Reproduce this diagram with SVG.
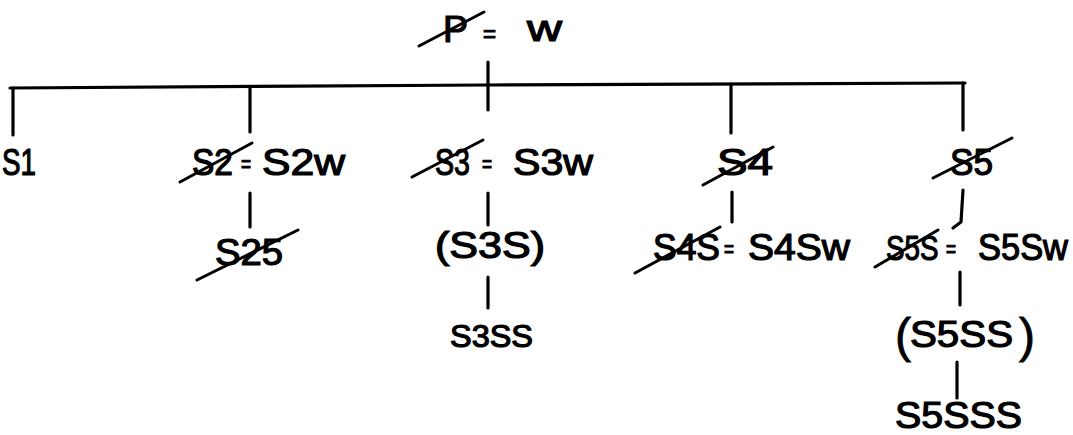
<svg xmlns="http://www.w3.org/2000/svg" width="1073" height="435" viewBox="0 0 1073 435">
<style>
  text { font-family: "Liberation Sans", Arial, sans-serif; font-size: 36px; fill: #000; stroke: #000; stroke-width: 1.2px; }
  text.eq { font-size: 24px; }
  text.sm { font-size: 31px; }
  text.par { font-size: 48px; stroke-width: 0.8px; }
  .ln { stroke: #000; stroke-width: 3.2; fill: none; stroke-linecap: round; stroke-linejoin: round; }
  .st { stroke: #000; stroke-width: 3; fill: none; stroke-linecap: round; }
</style>
<rect width="1073" height="435" fill="#fff"/>

<g id="connectors">
  <path class="ln" d="M10,88 L488,85 L965,83"/>
  <path class="ln" d="M488,62 L488,110"/>
  <path class="ln" d="M13,88 L13,135"/>
  <path class="ln" d="M250,87 L250,132"/>
  <path class="ln" d="M731,84 L731,133"/>
  <path class="ln" d="M963,83 L963,130"/>
  <path class="ln" d="M250,193 L250,227"/>
  <path class="ln" d="M488,193 L488,225"/>
  <path class="ln" d="M488,277 L488,308"/>
  <path class="ln" d="M732,192 L732,222"/>
  <path class="ln" d="M963,190 L961,222 L953,228"/>
  <path class="ln" d="M960,272 L960,305"/>
  <path class="ln" d="M957,362 L957,398"/>
</g>

<g id="node-p">
  <text x="443" y="42" textLength="25" lengthAdjust="spacingAndGlyphs">P</text>
  <text class="eq" x="483" y="42" textLength="13" lengthAdjust="spacingAndGlyphs">=</text>
  <text x="527" y="41" textLength="35" lengthAdjust="spacingAndGlyphs">w</text>
  <line class="st" x1="419" y1="46" x2="484" y2="12"/>
</g>

<g id="node-s1">
  <text x="2" y="175" textLength="34" lengthAdjust="spacingAndGlyphs">S1</text>
</g>

<g id="node-s2">
  <text x="192" y="175" textLength="41" lengthAdjust="spacingAndGlyphs">S2</text>
  <text class="eq" x="241" y="172" textLength="10" lengthAdjust="spacingAndGlyphs">=</text>
  <text x="262" y="175" textLength="83" lengthAdjust="spacingAndGlyphs">S2w</text>
  <line class="st" x1="180" y1="182" x2="252" y2="143"/>
</g>

<g id="node-s3">
  <text x="435" y="175" textLength="35" lengthAdjust="spacingAndGlyphs">S3</text>
  <text class="eq" x="482" y="172" textLength="10" lengthAdjust="spacingAndGlyphs">=</text>
  <text x="513" y="175" textLength="80" lengthAdjust="spacingAndGlyphs">S3w</text>
  <line class="st" x1="412" y1="177" x2="483" y2="140"/>
</g>

<g id="node-s4">
  <text x="717" y="175" textLength="56" lengthAdjust="spacingAndGlyphs">S4</text>
  <line class="st" x1="703" y1="185" x2="773" y2="147"/>
</g>

<g id="node-s5">
  <text x="950" y="175" textLength="43" lengthAdjust="spacingAndGlyphs">S5</text>
  <line class="st" x1="933" y1="178" x2="1012" y2="138"/>
</g>

<g id="node-s25">
  <text x="215" y="265" textLength="68" lengthAdjust="spacingAndGlyphs">S25</text>
  <line class="st" x1="197" y1="280" x2="298" y2="230"/>
</g>

<g id="node-s3s">
  <text x="435" y="258" textLength="110" lengthAdjust="spacingAndGlyphs">(S3S)</text>
</g>

<g id="node-s3ss">
  <text class="sm" x="450" y="347" textLength="83" lengthAdjust="spacingAndGlyphs">S3SS</text>
</g>

<g id="node-s4s">
  <text x="653" y="260" textLength="67" lengthAdjust="spacingAndGlyphs">S4S</text>
  <text class="eq" x="724" y="257" textLength="10" lengthAdjust="spacingAndGlyphs">=</text>
  <text x="748" y="260" textLength="102" lengthAdjust="spacingAndGlyphs">S4Sw</text>
  <line class="st" x1="635" y1="273" x2="720" y2="227"/>
</g>

<g id="node-s5s">
  <text transform="translate(886,260) scale(0.77,1)" x="0" y="0">S5S</text>
  <text class="eq" x="946" y="257" textLength="10" lengthAdjust="spacingAndGlyphs">=</text>
  <text x="978" y="260" textLength="90" lengthAdjust="spacingAndGlyphs">S5Sw</text>
  <line class="st" x1="875" y1="267" x2="938" y2="230"/>
</g>

<g id="node-s5ss">
  <text class="par" x="895" y="352">(</text>
  <text x="910" y="347" textLength="103" lengthAdjust="spacingAndGlyphs">S5SS</text>
  <text class="par" x="1019" y="352">)</text>
</g>

<g id="node-s5sss">
  <text x="895" y="428" textLength="127" lengthAdjust="spacingAndGlyphs">S5SSS</text>
</g>
</svg>
